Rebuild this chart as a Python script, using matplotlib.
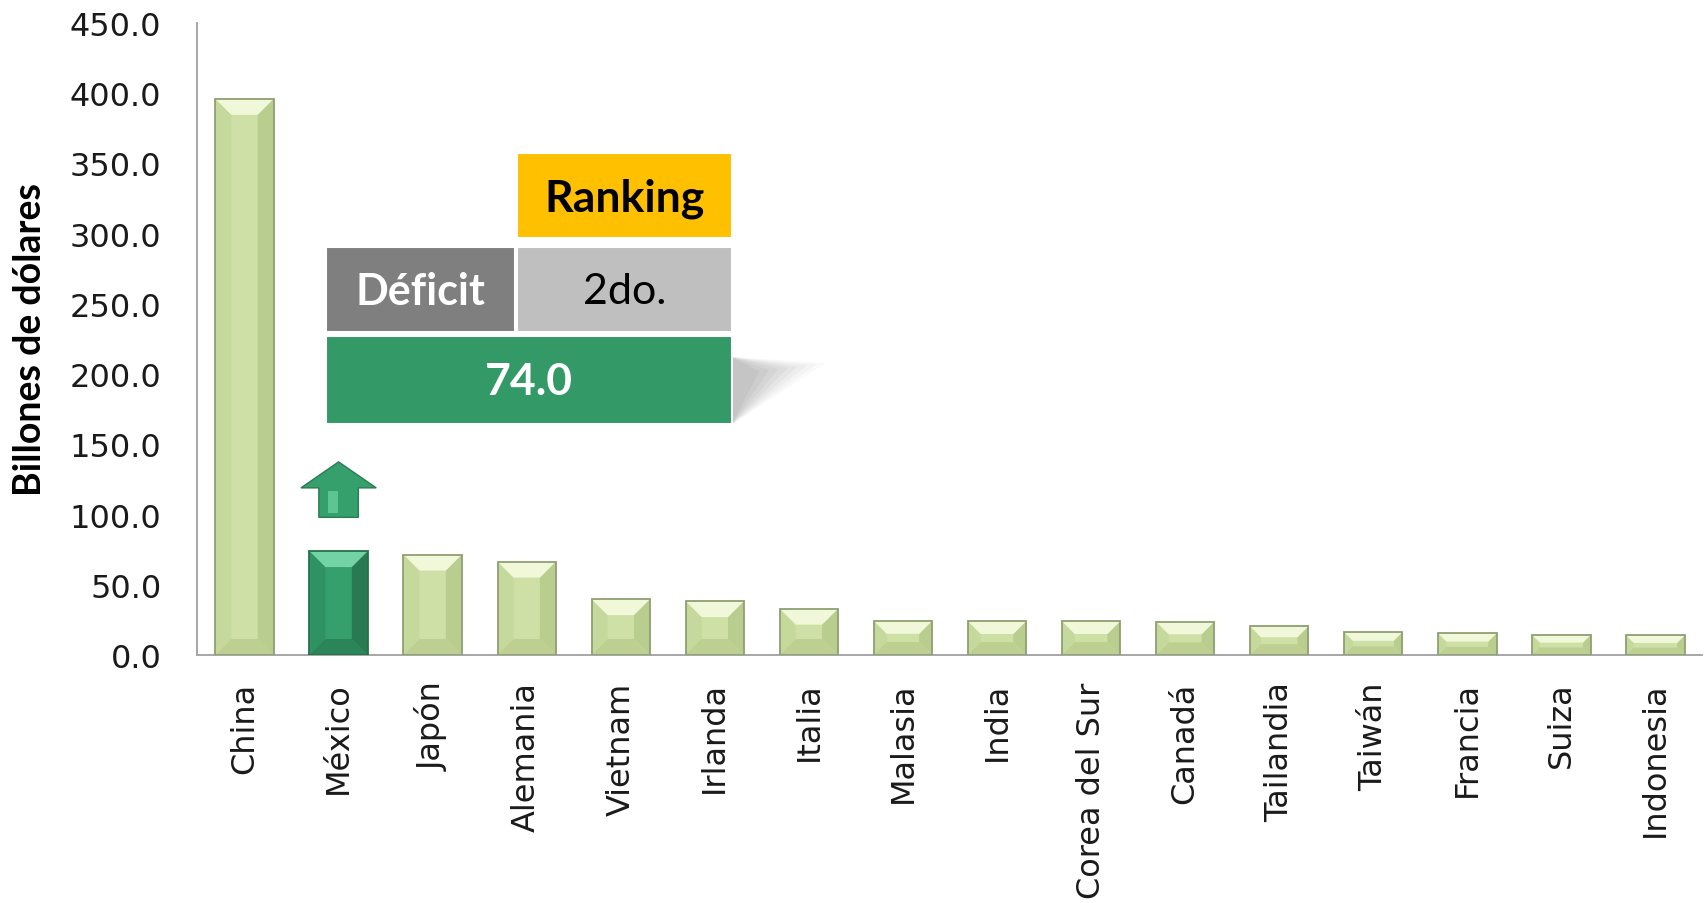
import matplotlib
matplotlib.use("Agg")
import matplotlib.pyplot as plt
from matplotlib.patches import Polygon, Rectangle
import numpy as np

# ---- data ----
countries = ["China", "México", "Japón", "Alemania", "Vietnam", "Irlanda", "Italia",
             "Malasia", "India", "Corea del Sur", "Canadá", "Tailandia", "Taiwán",
             "Francia", "Suiza", "Indonesia"]
deficit = [396.0, 74.0, 71.5, 66.5, 39.8, 38.4, 33.0, 24.3, 24.1, 24.1, 23.8,
           20.4, 16.3, 15.4, 14.2, 13.9]
highlight = "México"
yticks = [0, 50, 100, 150, 200, 250, 300, 350, 400, 450]
ylabel = "Billones de dólares"
box_header = "Ranking"
box_label = "Déficit"
box_rank = "2do."
box_value = "74.0"

W, H = 1706, 904
fig = plt.figure(figsize=(W / 100, H / 100), dpi=100)
ax_l, ax_r, ax_b, ax_t = 197.5, 1702.5, 656, 24
ax = fig.add_axes([ax_l / W, 1 - ax_b / H, (ax_r - ax_l) / W, (ax_b - ax_t) / H])
ax.set_xlim(-0.5, len(countries) - 0.5)
ax.set_ylim(0, 450)

px_x = (ax_r - ax_l) / len(countries)
px_y = (ax_b - ax_t) / 450.0
bw = 0.62

light = dict(face="#cfe0a7", top="#f1f8d9", left="#c6d99c", right="#b9cd8e",
             bottom="#bdd092", edge="#8f9f72")
dark = dict(face="#36a06c", top="#74d3a4", left="#2f9262", right="#277a52",
            bottom="#2b8558", edge="#26704b")

x = np.arange(len(countries))
for xi, v, name in zip(x, deficit, countries):
    c = dark if name == highlight else light
    x0, x1 = xi - bw / 2, xi + bw / 2
    b = min(16.0, 0.38 * v * px_y)
    dx, dy = b / px_x, b / px_y
    ax.bar(xi, v, width=bw, color=c["face"], edgecolor="none", zorder=2)
    ax.add_patch(Polygon([(x0, 0), (x0 + dx, dy), (x0 + dx, v - dy), (x0, v)],
                         closed=True, fc=c["left"], ec="none", zorder=3))
    ax.add_patch(Polygon([(x1, 0), (x1 - dx, dy), (x1 - dx, v - dy), (x1, v)],
                         closed=True, fc=c["right"], ec="none", zorder=3))
    ax.add_patch(Polygon([(x0, 0), (x1, 0), (x1 - dx, dy), (x0 + dx, dy)],
                         closed=True, fc=c["bottom"], ec="none", zorder=3))
    ax.add_patch(Polygon([(x0, v), (x1, v), (x1 - dx, v - dy), (x0 + dx, v - dy)],
                         closed=True, fc=c["top"], ec="none", zorder=3))
    ax.add_patch(Rectangle((x0, 0), bw, v, fc="none", ec=c["edge"], lw=1.3, zorder=4))

# arrow above highlighted bar
hi = countries.index(highlight)
hv = deficit[hi]
tip, hb, bot = hv + 63.5, hv + 45, hv + 24
hw, sw = 0.40, 0.21
ax.add_patch(Polygon([(hi - sw, bot), (hi + sw, bot), (hi + sw, hb), (hi + hw, hb),
                      (hi, tip), (hi - hw, hb), (hi - sw, hb)], closed=True,
                     fc="#36a06c", ec="#2a7a52", lw=1.0, zorder=5))
ax.add_patch(Polygon([(hi - sw * 0.55, bot + 3), (hi - sw * 0.05, bot + 3),
                      (hi - sw * 0.05, hb - 2), (hi - sw * 0.55, hb - 2)], closed=True,
                     fc="#5cc592", ec="none", zorder=6))

ax.set_yticks(yticks)
ax.set_yticklabels([f"{t:.1f}" for t in yticks], fontsize=23, family="DejaVu Sans",
                   color="#1a1a1a")
ax.set_xticks(x)
ax.set_xticklabels(countries, rotation=90, fontsize=23, family="DejaVu Sans",
                   color="#1a1a1a")
ax.tick_params(axis="y", length=0, pad=26)
ax.tick_params(axis="x", length=0, pad=19)
for s in ["top", "right"]:
    ax.spines[s].set_visible(False)
for s in ["left", "bottom"]:
    ax.spines[s].set_color("#a0a0a0")
    ax.spines[s].set_linewidth(1.3)
ax.set_ylabel(ylabel, fontsize=27, fontweight="bold", family="Lato", color="black")
ax.yaxis.set_label_coords((47 - ax_l) / (ax_r - ax_l), 0.5)


# ---- info box (figure pixel coords) ----
def fx(px):
    return px / W


def fy(py):
    return 1 - py / H


def box(x0, y0, x1, y1, color, z=10):
    fig.patches.append(Rectangle((fx(x0), fy(y1)), fx(x1) - fx(x0), fy(y0) - fy(y1),
                                 transform=fig.transFigure, fc=color, ec="white",
                                 lw=1.5, zorder=z))


# shadow
for k, a in enumerate(np.linspace(0.10, 0.35, 8)):
    s = 1 - k * 0.1
    fig.patches.append(Polygon([(fx(731), fy(358)),
                                (fx(731 + 95 * s), fy(364 + (1 - s) * 12)),
                                (fx(731), fy(426))], closed=True,
                               transform=fig.transFigure, fc="#a0a0a0", ec="none",
                               alpha=a * 0.45, zorder=9))

box(517, 154, 732, 239, "#ffc000")
box(326, 248, 515, 333, "#7f7f7f")
box(517, 248, 732, 333, "#bfbfbf")
box(326, 337, 732, 425, "#339966")

fig.text(fx(624.5), fy(199), box_header, ha="center", va="center", fontsize=32,
         fontweight="bold", family="Lato", color="black", zorder=12)
fig.text(fx(420.5), fy(292), box_label, ha="center", va="center", fontsize=31,
         fontweight="bold", family="Lato", color="white", zorder=12)
fig.text(fx(624.5), fy(292), box_rank, ha="center", va="center", fontsize=31,
         family="Lato", color="black", zorder=12)
fig.text(fx(529), fy(382), box_value, ha="center", va="center", fontsize=32,
         fontweight="bold", family="Lato", color="white", zorder=12)

fig.savefig("out.png", dpi=100, facecolor="white")
